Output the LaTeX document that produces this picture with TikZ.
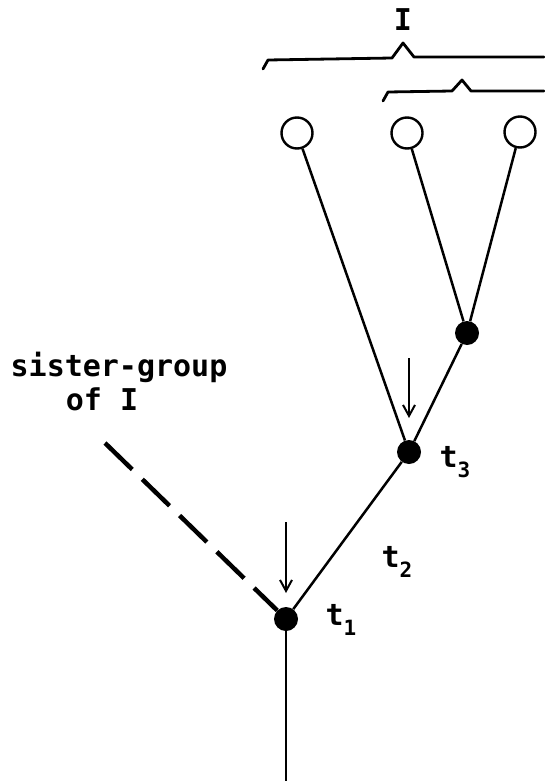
\documentclass[tikz,border=0pt]{standalone}
\usepackage{fontspec}
\setmonofont{DejaVu Sans Mono}
\usetikzlibrary{arrows.meta}
\newcommand{\tlab}[1]{t\raisebox{-0.35em}{\fontsize{21}{21}\selectfont #1}}
\begin{document}
\begin{tikzpicture}[x=1pt,y=-1pt,
  leaf/.style={circle,draw,line width=2.4pt,minimum size=31pt,inner sep=0pt,fill=white},
  dot/.style={circle,fill=black,minimum size=24pt,inner sep=0pt},
  edge/.style={line width=2.5pt},
  brace/.style={line width=2.8pt,line join=round,line cap=round},
  lab/.style={font=\ttfamily\bfseries\fontsize{30}{32}\selectfont,inner sep=0pt},
  pointer/.style={line width=2pt,-{Straight Barb[length=11pt,width=12pt,line width=2pt]}}]
\useasboundingbox (0,0) rectangle (544,781);
% leaves
\node[leaf] (l1) at (297,133) {};
\node[leaf] (l2) at (407,133) {};
\node[leaf] (l3) at (520,132) {};
% internal nodes
\node[dot] (n3) at (467,333) {};
\node[dot] (n2) at (409,452) {};
\node[dot] (n1) at (286,619) {};
\coordinate (root) at (286,781);
\coordinate (sis) at (105,443);
% edges
\draw[edge] (l1) -- (n2);
\draw[edge] (l2) -- (n3);
\draw[edge] (l3) -- (n3);
\draw[edge] (n3) -- (n2);
\draw[edge] (n2) -- (n1);
\draw[edge] (n1) -- (root);
\draw[line width=4.5pt,dash pattern=on 38pt off 14pt] (sis) -- (n1);
% arrows
\coordinate (a1s) at (286,522);
\coordinate (a1e) at (286,593);
\coordinate (a2s) at (409,358);
\coordinate (a2e) at (409,418);
\draw[pointer] (a1s) -- (a1e);
\draw[pointer] (a2s) -- (a2e);
% braces
\draw[brace] (263,69) -- (268,60) -- (392,58) -- (403,43) -- (414,57) -- (544,57);
\draw[brace] (383,101) -- (388,92) -- (452,91) -- (462,80) -- (471,91) -- (544,91);
% labels
\node[lab] (I) at (403,20) {I};
\node[lab] (sg) at (119,367) {sister-group};
\node[lab] (ofI) at (102,399) {of I};
\node[lab] (t3) at (455,462) {\tlab{3}};
\node[lab] (t2) at (397,562) {\tlab{2}};
\node[lab] (t1) at (341,620) {\tlab{1}};
\end{tikzpicture}
\end{document}
